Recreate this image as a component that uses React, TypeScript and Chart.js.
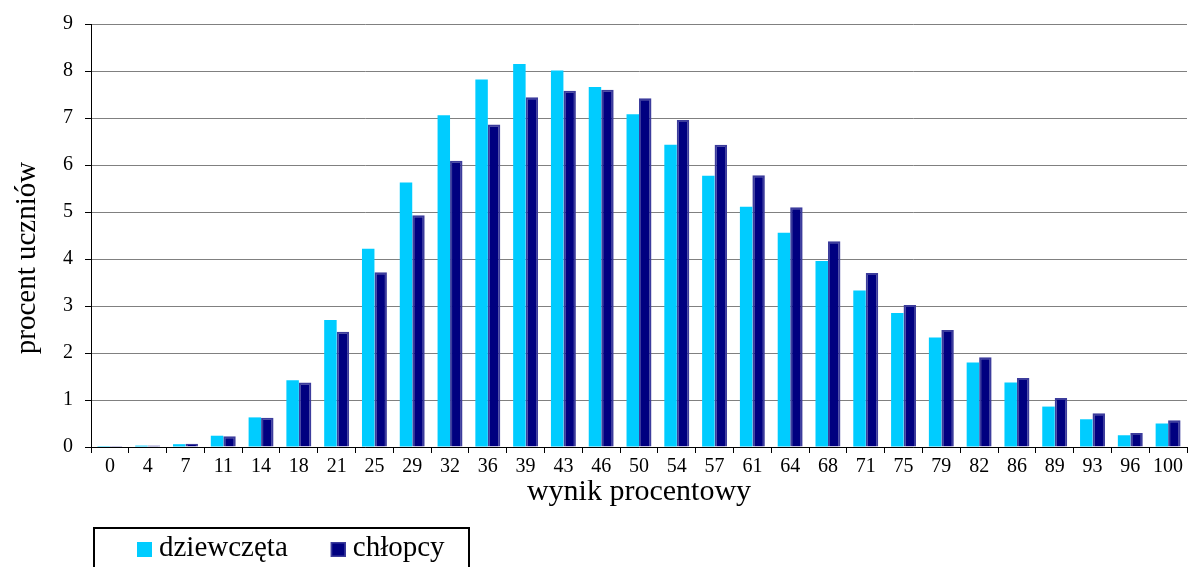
import React, { useEffect, useRef } from "react";
import { Chart, registerables } from "chart.js";

Chart.register(...registerables);

const categories = ["0","4","7","11","14","18","21","25","29","32","36","39","43","46","50","54","57","61","64","68","71","75","79","82","86","89","93","96","100"];
const girls = [0.02,0.03,0.06,0.24,0.63,1.42,2.70,4.22,5.63,7.06,7.82,8.15,8.01,7.66,7.08,6.43,5.77,5.11,4.56,3.96,3.33,2.85,2.33,1.80,1.37,0.86,0.59,0.25,0.50];
const boys = [0.02,0.03,0.07,0.23,0.62,1.37,2.45,3.72,4.93,6.09,6.86,7.44,7.58,7.60,7.42,6.96,6.43,5.78,5.10,4.38,3.70,3.02,2.49,1.91,1.47,1.04,0.72,0.30,0.57];
const seriesLabels = ["dziewczęta", "chłopcy"];
const yTitle = "procent uczniów";
const xTitle = "wynik procentowy";

const FONT = "'Liberation Serif', 'Times New Roman', serif";
const W = 1188;
const H = 567;

const extras = {
  id: "extras",
  afterDraw(chart: any) {
    const ctx = chart.ctx;
    ctx.save();
    // y axis title
    ctx.fillStyle = "#000";
    ctx.font = `29px ${FONT}`;
    ctx.textAlign = "center";
    ctx.textBaseline = "middle";
    ctx.translate(27, 258);
    ctx.rotate(-Math.PI / 2);
    ctx.fillText(yTitle, 0, 0);
    ctx.restore();

    // legend
    ctx.save();
    ctx.strokeStyle = "#000";
    ctx.lineWidth = 2;
    ctx.strokeRect(94, 528, 375, 60);
    ctx.font = `29px ${FONT}`;
    ctx.textBaseline = "alphabetic";
    ctx.textAlign = "left";
    let x = 137;
    chart.data.datasets.forEach((ds: any) => {
      ctx.fillStyle = ds.backgroundColor;
      ctx.fillRect(x, 542, 15, 15);
      if (ds.borderWidth) {
        ctx.strokeStyle = ds.borderColor;
        ctx.lineWidth = 1.5;
        ctx.strokeRect(x + 0.75, 542.75, 13.5, 13.5);
      }
      ctx.fillStyle = "#000";
      ctx.fillText(ds.label, x + 22, 556);
      x += 22 + ctx.measureText(ds.label).width + 43;
    });
    ctx.restore();
  },
};

export default function App() {
  const ref = useRef<HTMLCanvasElement>(null);
  useEffect(() => {
    if (!ref.current) return;
    const chart = new Chart(ref.current, {
      type: "bar",
      data: {
        labels: categories,
        datasets: [
          {
            label: seriesLabels[0],
            data: girls,
            backgroundColor: "#00CCFF",
            borderWidth: 0,
            categoryPercentage: 0.66,
            barPercentage: 1,
          },
          {
            label: seriesLabels[1],
            data: boys,
            backgroundColor: "#000080",
            borderColor: "#3c3c9c",
            borderWidth: 2,
            categoryPercentage: 0.66,
            barPercentage: 1,
          },
        ],
      },
      options: {
        responsive: false,
        animation: false,
        layout: { padding: { top: 23, right: 1, left: 0, bottom: 0 } },
        plugins: {
          legend: { display: false },
          tooltip: { enabled: false },
        },
        scales: {
          x: {
            offset: true,
            grid: {
              display: true,
              drawOnChartArea: false,
              drawTicks: true,
              tickLength: 6,
              color: "#000",
              offset: true,
            },
            border: { color: "#000", width: 1 },
            ticks: { color: "#000", font: { family: FONT, size: 20 }, padding: 2, maxRotation: 0, autoSkip: false },
            title: {
              display: true,
              text: xTitle,
              color: "#000",
              font: { family: FONT, size: 30 },
              padding: { top: 0, bottom: 57 },
            },
            afterFit(scale: any) {
              scale.height = 120;
            },
          },
          y: {
            min: 0,
            max: 9,
            ticks: { stepSize: 1, color: "#000", font: { family: FONT, size: 20 }, padding: 12 },
            grid: { color: "#808080", tickColor: "#000", tickLength: 6, lineWidth: 1 },
            border: { color: "#000", width: 1 },
            title: { display: false },
            afterFit(scale: any) {
              scale.width = 91;
            },
          },
        },
      },
      plugins: [extras],
    });
    return () => chart.destroy();
  }, []);
  return (
    <div style={{ position: "absolute", left: 0, top: 0, width: W, height: H, background: "#fff" }}>
      <canvas ref={ref} width={W} height={H} style={{ display: "block" }} />
    </div>
  );
}
